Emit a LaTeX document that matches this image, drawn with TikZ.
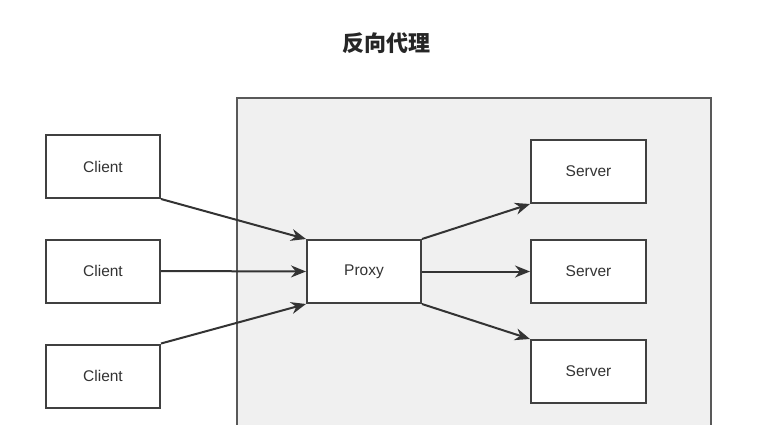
\documentclass[tikz,border=0pt]{standalone}
\usepackage{fontspec}
\setmainfont{Liberation Sans}
\newfontfamily\cjk{Noto Sans CJK SC}
\usetikzlibrary{arrows.meta}
\begin{document}
\begin{tikzpicture}[x=1pt,y=-1pt,
  box/.style={draw=black!75,line width=2pt,fill=white,minimum width=114pt,minimum height=63pt,inner sep=0pt,font=\fontsize{15.5}{18}\selectfont,text=black!80},
  link/.style={draw=black!80,line width=2pt,-{Stealth[length=15pt,width=12pt]}}]
\clip (0,0) rectangle (780,424);
\fill[white] (0,0) rectangle (780,424);
\node[font=\cjk\bfseries\fontsize{22}{26}\selectfont,text=black!85] (title) at (386,43) {反向代理};
\draw[draw=black!65,line width=2.4pt,fill=black!6] (237,98) rectangle (711,440);
\node[box] (c1) at (103,166.5) {Client};
\node[box] (c2) at (103,271) {Client};
\node[box] (c3) at (103,376) {Client};
\node[box] (p) at (364,271.5) {Proxy};
\node[box,minimum width=115pt] (s1) at (588.5,171.5) {Server};
\node[box,minimum width=115pt] (s2) at (588.5,271.5) {Server};
\node[box,minimum width=115pt] (s3) at (588.5,371.5) {Server};
\draw[link] (c1.south east) -- (p.north west);
\draw[link] (c2.east) -- (p.west);
\draw[link] (c3.north east) -- (p.south west);
\draw[link] (p.north east) -- (s1.south west);
\draw[link] (p.east) -- (s2.west);
\draw[link] (p.south east) -- (s3.north west);
\end{tikzpicture}
\end{document}
